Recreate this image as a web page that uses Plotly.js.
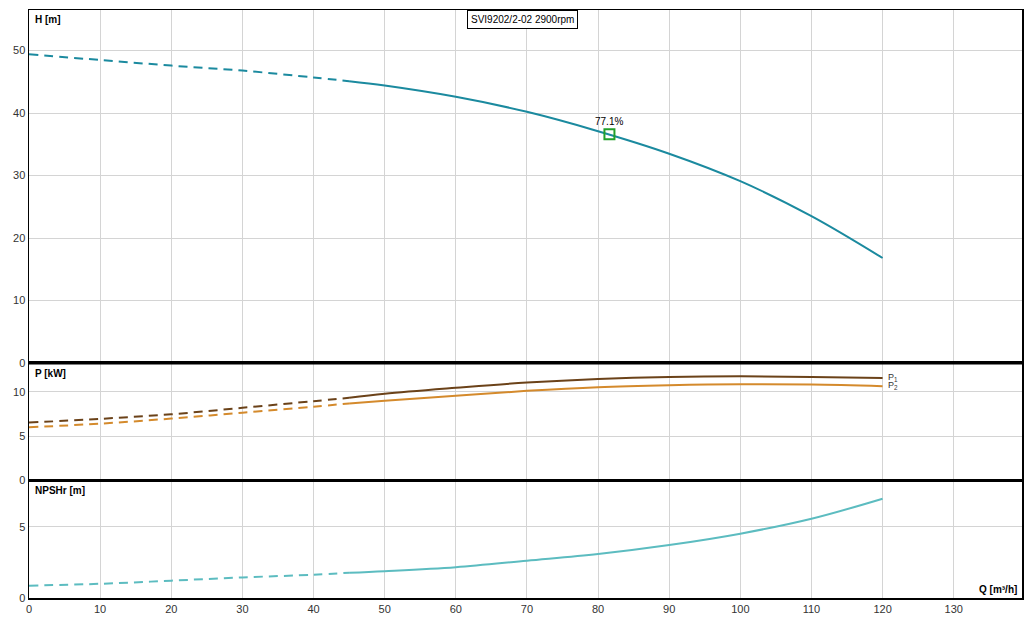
<!DOCTYPE html>
<html>
<head>
<meta charset="utf-8">
<script src="https://cdn.plot.ly/plotly-3.0.1.min.js"></script>
<style>
  html, body { margin: 0; padding: 0; background: #fff; }
  #chart { width: 1035px; height: 629px; }
</style>
</head>
<body>
<div id="chart"></div>
<script>
// Flow points (m³/h); dashed part runs up to 45, solid part from 45 on
const qDash = [0, 10, 20, 30, 40, 45];
const qSolid = [45, 50, 60, 70, 80, 90, 100, 110, 120];

// Head H [m]
const hDash = [49.4, 48.5, 47.6, 46.8, 45.7, 45.1];
const hSolid = [45.1, 44.4, 42.6, 40.2, 37.1, 33.5, 29.1, 23.5, 16.8];

// Power P1 / P2 [kW]
const p1Dash = [6.53, 6.95, 7.47, 8.2, 8.95, 9.33];
const p1Solid = [9.33, 9.78, 10.45, 11.05, 11.46, 11.69, 11.76, 11.69, 11.55];
const p2Dash = [6.0, 6.41, 6.98, 7.65, 8.32, 8.69];
const p2Solid = [8.69, 8.99, 9.55, 10.11, 10.53, 10.75, 10.86, 10.82, 10.64];

// NPSHr [m]
const npshDash = [0.87, 1.0, 1.22, 1.45, 1.64, 1.78];
const npshSolid = [1.78, 1.89, 2.17, 2.63, 3.1, 3.73, 4.53, 5.58, 6.99];

// Duty point
const dutyQ = [81.6];
const dutyH = [36.6];
const dutyLabel = "77.1%";

const xTicks = [0, 10, 20, 30, 40, 50, 60, 70, 80, 90, 100, 110, 120, 130];

const title = "SVI9202/2-02 2900rpm";

const cH = "#1b8a9f";
const cP1 = "#6b4219";
const cP2 = "#d48a2c";
const cN = "#5cbcc0";
const dash = "9px,6px";

function line(x, y, color, yaxis, dashed, width) {
  return {
    x: x, y: y, yaxis: yaxis, type: "scatter", mode: "lines",
    line: { color: color, width: width || 2, shape: "spline", dash: dashed ? dash : "solid" },
    hoverinfo: "skip", showlegend: false,
  };
}

const traces = [
  line(qDash, hDash, cH, "y", true),
  line(qSolid, hSolid, cH, "y", false),
  line(qDash, p1Dash, cP1, "y2", true),
  line(qSolid, p1Solid, cP1, "y2", false),
  line(qDash, p2Dash, cP2, "y2", true),
  line(qSolid, p2Solid, cP2, "y2", false),
  line(qDash, npshDash, cN, "y3", true),
  line(qSolid, npshSolid, cN, "y3", false),
  {
    x: dutyQ, y: dutyH, yaxis: "y", type: "scatter", mode: "markers",
    marker: { symbol: "square-open", size: 10, color: "#22a02a", line: { width: 2, color: "#22a02a" } },
    hoverinfo: "skip", showlegend: false,
  },
];

// panel borders in paper units
const b1 = 0.3997;
const b2 = 0.2;

const font = { family: "Liberation Sans, Arial, sans-serif", size: 11, color: "#333" };
const gridColor = "#d4d4d4";

const yCommon = {
  showgrid: true, gridcolor: gridColor, gridwidth: 1,
  showline: true, linecolor: "#000", linewidth: 1.5, mirror: true,
  zeroline: false, ticks: "", tickfont: font, fixedrange: true,
};

const layout = {
  width: 1035, height: 629,
  margin: { l: 29, r: 13, t: 10, b: 31 },
  paper_bgcolor: "#fff", plot_bgcolor: "#fff",
  font: font,
  showlegend: false,
  xaxis: {
    range: [0, 139.6], tickvals: xTicks, ticktext: xTicks.map(String),
    showgrid: true, gridcolor: gridColor, gridwidth: 1,
    showline: true, linecolor: "#000", linewidth: 1.5, mirror: "all",
    zeroline: false, ticks: "", tickfont: font, anchor: "y3",
  },
  yaxis: Object.assign({}, yCommon, { domain: [b1, 1], range: [0, 56.5], tickvals: [0, 10, 20, 30, 40, 50] }),
  yaxis2: Object.assign({}, yCommon, { domain: [b2, b1], range: [0, 13.26], tickvals: [0, 5, 10] }),
  yaxis3: Object.assign({}, yCommon, { domain: [0, b2], range: [0, 8.28], tickvals: [0, 5] }),
  shapes: [
    { type: "line", xref: "paper", yref: "paper", x0: 0, x1: 1, y0: b1, y1: b1, line: { color: "#000", width: 3 } },
    { type: "line", xref: "paper", yref: "paper", x0: 0, x1: 1, y0: b2, y1: b2, line: { color: "#000", width: 3 } },
  ],
  annotations: [
    {
      xref: "paper", yref: "paper", x: 0.497, y: 1, xanchor: "center", yanchor: "top",
      text: title, showarrow: false, font: { family: font.family, size: 10, color: "#000" },
      bordercolor: "#000", borderwidth: 1, borderpad: 3, bgcolor: "#fff",
    },
    {
      xref: "paper", yref: "paper", x: 0, y: 1, xanchor: "left", yanchor: "top", xshift: 4, yshift: -2,
      text: "<b>H [m]</b>", showarrow: false, font: { family: font.family, size: 10, color: "#000" },
    },
    {
      xref: "paper", yref: "paper", x: 0, y: b1, xanchor: "left", yanchor: "top", xshift: 4, yshift: -3,
      text: "<b>P [kW]</b>", showarrow: false, font: { family: font.family, size: 10, color: "#000" },
    },
    {
      xref: "paper", yref: "paper", x: 0, y: b2, xanchor: "left", yanchor: "top", xshift: 4, yshift: -3,
      text: "<b>NPSHr [m]</b>", showarrow: false, font: { family: font.family, size: 10, color: "#000" },
    },
    {
      xref: "paper", yref: "paper", x: 1, y: 0, xanchor: "right", yanchor: "bottom", xshift: -3, yshift: 1,
      text: "<b>Q [m³/h]</b>", showarrow: false, font: { family: font.family, size: 10, color: "#000" },
    },
    {
      xref: "x", yref: "y", x: dutyQ[0], y: dutyH[0], xanchor: "center", yanchor: "bottom", yshift: 5,
      text: dutyLabel, showarrow: false, font: { family: font.family, size: 10, color: "#000" },
    },
    {
      xref: "x", yref: "y2", x: qSolid[qSolid.length - 1], y: p1Solid[p1Solid.length - 1],
      xanchor: "left", yanchor: "middle", xshift: 3, yshift: 1,
      text: "P<sub>1</sub>", showarrow: false, font: { family: font.family, size: 9, color: "#333" },
    },
    {
      xref: "x", yref: "y2", x: qSolid[qSolid.length - 1], y: p2Solid[p2Solid.length - 1],
      xanchor: "left", yanchor: "middle", xshift: 3, yshift: 1,
      text: "P<sub>2</sub>", showarrow: false, font: { family: font.family, size: 9, color: "#333" },
    },
  ],
};

Plotly.newPlot("chart", traces, layout, { displayModeBar: false, staticPlot: true });
</script>
</body>
</html>
